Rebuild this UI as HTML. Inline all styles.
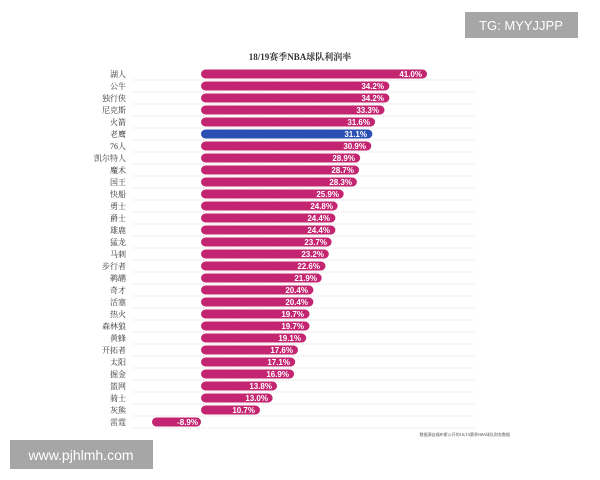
<!DOCTYPE html>
<html><head><meta charset="utf-8"><style>
body{margin:0;background:#fff;}
svg{display:block}
.l{font-family:"Liberation Serif","Noto Serif CJK SC",serif;font-size:8px;fill:#333;text-anchor:end}
.v{font-family:"Liberation Sans",sans-serif;font-size:8px;font-weight:bold;fill:#fff;text-anchor:end}
</style></head><body>
<svg width="600" height="480" xmlns="http://www.w3.org/2000/svg">
<rect width="600" height="480" fill="#fff"/>
<text x="300" y="60" text-anchor="middle" font-family="Liberation Serif,'Noto Serif CJK SC',serif" font-size="9" font-weight="bold" fill="#333">18/19赛季NBA球队利润率</text>
<g stroke="#ccc" stroke-dasharray="1,1.5" stroke-width="0.7">
<line x1="133" x2="475" y1="80" y2="80"/><line x1="133" x2="475" y1="92" y2="92"/><line x1="133" x2="475" y1="104" y2="104"/><line x1="133" x2="475" y1="116" y2="116"/><line x1="133" x2="475" y1="128" y2="128"/><line x1="133" x2="475" y1="140" y2="140"/><line x1="133" x2="475" y1="152" y2="152"/><line x1="133" x2="475" y1="164" y2="164"/><line x1="133" x2="475" y1="176" y2="176"/><line x1="133" x2="475" y1="188" y2="188"/><line x1="133" x2="475" y1="200" y2="200"/><line x1="133" x2="475" y1="212" y2="212"/><line x1="133" x2="475" y1="224" y2="224"/><line x1="133" x2="475" y1="236" y2="236"/><line x1="133" x2="475" y1="248" y2="248"/><line x1="133" x2="475" y1="260" y2="260"/><line x1="133" x2="475" y1="272" y2="272"/><line x1="133" x2="475" y1="284" y2="284"/><line x1="133" x2="475" y1="296" y2="296"/><line x1="133" x2="475" y1="308" y2="308"/><line x1="133" x2="475" y1="320" y2="320"/><line x1="133" x2="475" y1="332" y2="332"/><line x1="133" x2="475" y1="344" y2="344"/><line x1="133" x2="475" y1="356" y2="356"/><line x1="133" x2="475" y1="368" y2="368"/><line x1="133" x2="475" y1="380" y2="380"/><line x1="133" x2="475" y1="392" y2="392"/><line x1="133" x2="475" y1="404" y2="404"/><line x1="133" x2="475" y1="416" y2="416"/><line x1="133" x2="475" y1="428" y2="428"/>
</g>
<g fill="#c42570">
<rect x="201" y="69.5" width="226" height="9" rx="4.5"/>
<rect x="201" y="81.5" width="188.4" height="9" rx="4.5"/>
<rect x="201" y="93.5" width="188.4" height="9" rx="4.5"/>
<rect x="201" y="105.5" width="183.5" height="9" rx="4.5"/>
<rect x="201" y="117.5" width="174.1" height="9" rx="4.5"/>
<rect x="201" y="129.5" width="171.4" height="9" rx="4.5" fill="#2c4fb3"/>
<rect x="201" y="141.5" width="170.3" height="9" rx="4.5"/>
<rect x="201" y="153.5" width="159.2" height="9" rx="4.5"/>
<rect x="201" y="165.5" width="158.1" height="9" rx="4.5"/>
<rect x="201" y="177.5" width="155.9" height="9" rx="4.5"/>
<rect x="201" y="189.5" width="142.7" height="9" rx="4.5"/>
<rect x="201" y="201.5" width="136.6" height="9" rx="4.5"/>
<rect x="201" y="213.5" width="134.4" height="9" rx="4.5"/>
<rect x="201" y="225.5" width="134.4" height="9" rx="4.5"/>
<rect x="201" y="237.5" width="130.6" height="9" rx="4.5"/>
<rect x="201" y="249.5" width="127.8" height="9" rx="4.5"/>
<rect x="201" y="261.5" width="124.5" height="9" rx="4.5"/>
<rect x="201" y="273.5" width="120.7" height="9" rx="4.5"/>
<rect x="201" y="285.5" width="112.4" height="9" rx="4.5"/>
<rect x="201" y="297.5" width="112.4" height="9" rx="4.5"/>
<rect x="201" y="309.5" width="108.5" height="9" rx="4.5"/>
<rect x="201" y="321.5" width="108.5" height="9" rx="4.5"/>
<rect x="201" y="333.5" width="105.2" height="9" rx="4.5"/>
<rect x="201" y="345.5" width="97" height="9" rx="4.5"/>
<rect x="201" y="357.5" width="94.2" height="9" rx="4.5"/>
<rect x="201" y="369.5" width="93.1" height="9" rx="4.5"/>
<rect x="201" y="381.5" width="76" height="9" rx="4.5"/>
<rect x="201" y="393.5" width="71.6" height="9" rx="4.5"/>
<rect x="201" y="405.5" width="59" height="9" rx="4.5"/>
<rect x="152" y="417.5" width="49" height="9" rx="4.5"/>
</g>
<g class="l">
<text x="126" y="77">湖人</text><text x="126" y="89">公牛</text><text x="126" y="101">独行侠</text><text x="126" y="113">尼克斯</text><text x="126" y="125">火箭</text><text x="126" y="137">老鹰</text><text x="126" y="149">76人</text><text x="126" y="161">凯尔特人</text><text x="126" y="173">魔术</text><text x="126" y="185">国王</text><text x="126" y="197">快船</text><text x="126" y="209">勇士</text><text x="126" y="221">爵士</text><text x="126" y="233">雄鹿</text><text x="126" y="245">猛龙</text><text x="126" y="257">马刺</text><text x="126" y="269">步行者</text><text x="126" y="281">鹈鹕</text><text x="126" y="293">奇才</text><text x="126" y="305">活塞</text><text x="126" y="317">热火</text><text x="126" y="329">森林狼</text><text x="126" y="341">黄蜂</text><text x="126" y="353">开拓者</text><text x="126" y="365">太阳</text><text x="126" y="377">掘金</text><text x="126" y="389">篮网</text><text x="126" y="401">骑士</text><text x="126" y="413">灰熊</text><text x="126" y="425">雷霆</text>
</g>
<g class="v">
<text x="422" y="77">41.0%</text><text x="384" y="89">34.2%</text><text x="384" y="101">34.2%</text><text x="379" y="113">33.3%</text><text x="370" y="125">31.6%</text><text x="367" y="137">31.1%</text><text x="366" y="149">30.9%</text><text x="355" y="161">28.9%</text><text x="354" y="173">28.7%</text><text x="352" y="185">28.3%</text><text x="339" y="197">25.9%</text><text x="333" y="209">24.8%</text><text x="330" y="221">24.4%</text><text x="330" y="233">24.4%</text><text x="327" y="245">23.7%</text><text x="324" y="257">23.2%</text><text x="320" y="269">22.6%</text><text x="317" y="281">21.9%</text><text x="308" y="293">20.4%</text><text x="308" y="305">20.4%</text><text x="304" y="317">19.7%</text><text x="304" y="329">19.7%</text><text x="301" y="341">19.1%</text><text x="293" y="353">17.6%</text><text x="290" y="365">17.1%</text><text x="289" y="377">16.9%</text><text x="272" y="389">13.8%</text><text x="268" y="401">13.0%</text><text x="255" y="413">10.7%</text><text x="198" y="425">-8.9%</text>
</g>
<text x="510" y="436" text-anchor="end" font-family="'Noto Sans CJK SC',sans-serif" font-size="4" fill="#555">数据源自福布斯公开的18/19赛季NBA球队财务数据</text>
<rect x="465" y="12" width="113" height="26" fill="#a6a6a6"/>
<text x="521" y="30" text-anchor="middle" font-family="Liberation Sans,sans-serif" font-size="13" fill="#fff">TG: MYYJJPP</text>
<rect x="10" y="440" width="143" height="29" fill="#a6a6a6"/>
<text x="81" y="460" text-anchor="middle" font-family="Liberation Sans,sans-serif" font-size="14" fill="#fff">www.pjhlmh.com</text>
</svg>
</body></html>
